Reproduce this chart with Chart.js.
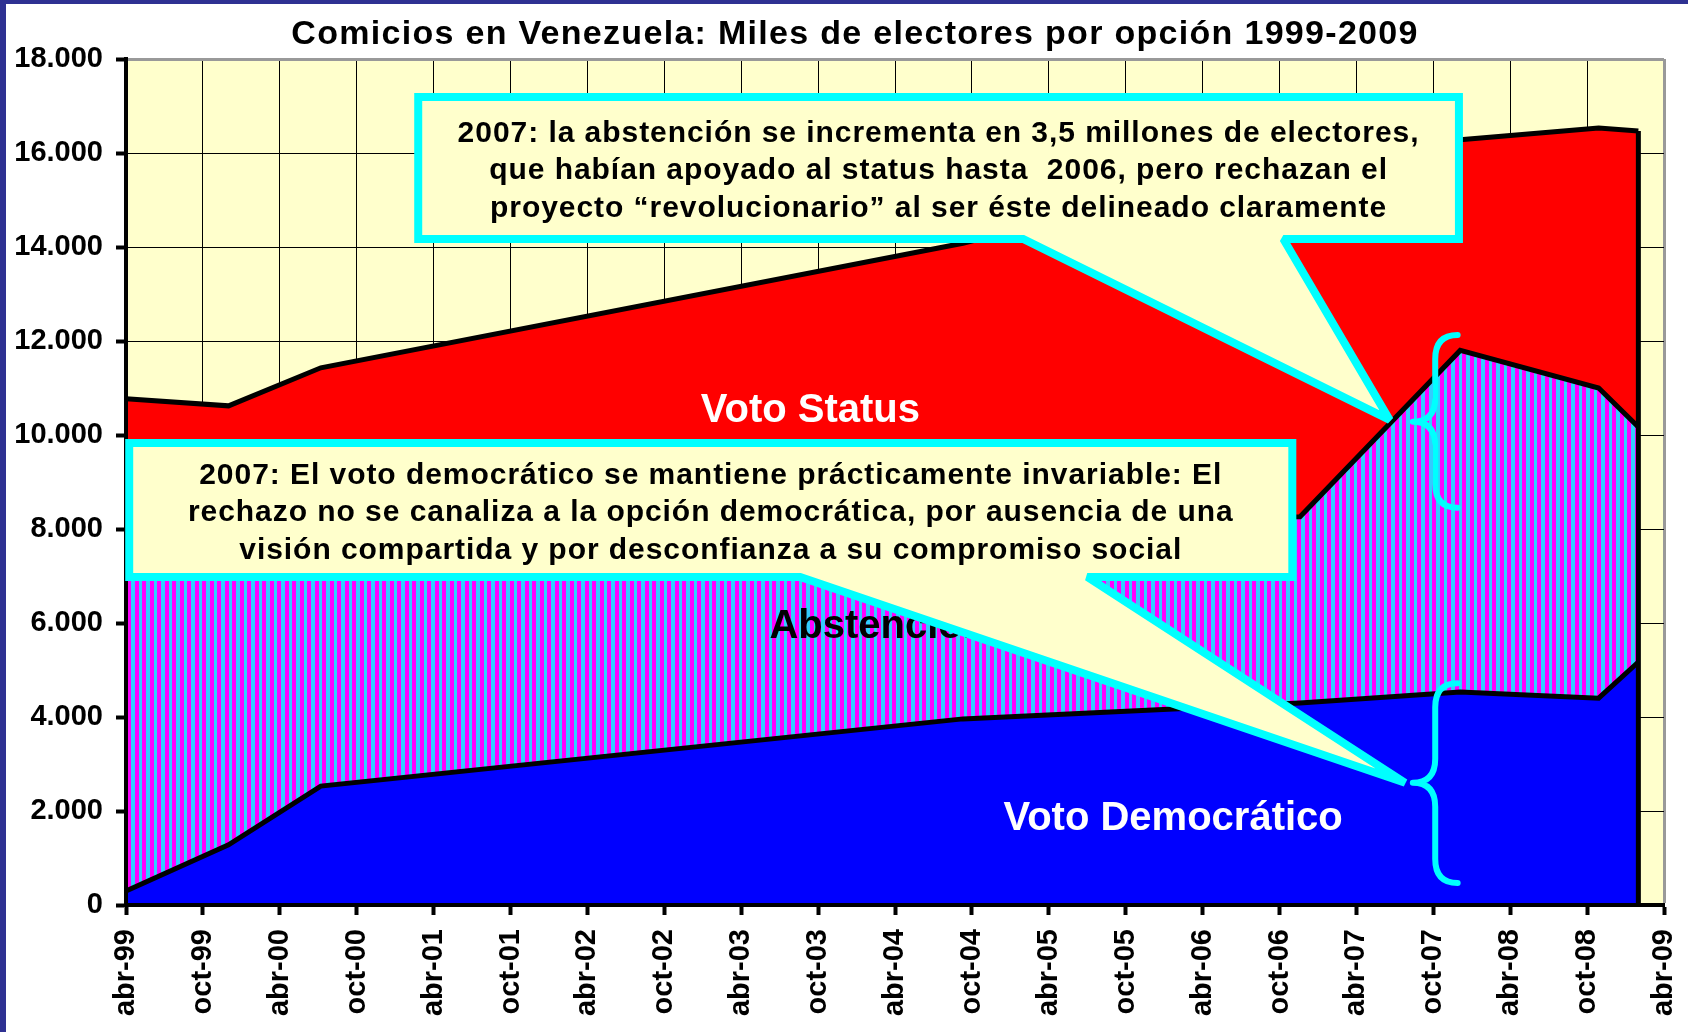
<!DOCTYPE html>
<html lang="es">
<head>
<meta charset="utf-8">
<title>Comicios en Venezuela</title>
<script src="https://cdn.jsdelivr.net/npm/chart.js@4.4.1/dist/chart.umd.min.js"></script>
<style>
    html, body { margin: 0; padding: 0; background: #ffffff; }
</style>
</head>
<body>
<canvas id="comicios" width="1688" height="1032"></canvas>
<script>
// -------------------------    Data    -------------------------

// election dates as months counted from abr-99
var eventMonths = [0, 8, 15.2, 65.3, 91.6, 104.1, 114.9, 118];
var eventNames = ['abr-99', 'dic-99', 'jul-00', 'ago-04', 'dic-06', 'dic-07', 'nov-08', 'feb-09'];

// miles de electores
var votoDemocratico = [300, 1280, 2530, 3960, 4300, 4530, 4400, 5170];
var abstencion = [6800, 6060, 5070, 4240, 3960, 7270, 6600, 5000];
var votoStatus = [3670, 3280, 3830, 5880, 7660, 4480, 5530, 6300];

// one label every 6 months
var xTickLabels = ['abr-99', 'oct-99', 'abr-00', 'oct-00', 'abr-01', 'oct-01', 'abr-02', 'oct-02',
    'abr-03', 'oct-03', 'abr-04', 'oct-04', 'abr-05', 'oct-05', 'abr-06', 'oct-06',
    'abr-07', 'oct-07', 'abr-08', 'oct-08', 'abr-09'];

var titleText = 'Comicios en Venezuela: Miles de electores por opción 1999-2009';


// -------------------------    Annotations (in data units)    -------------------------

var areaLabels = [
    { text: 'Voto Status', month: 53.4, value: 10520, color: '#ffffff' },
    { text: 'Abstención', month: 58.7, value: 5920, color: '#000000' },
    { text: 'Voto Democrático', month: 81.7, value: 1830, color: '#ffffff' }
];

var callouts = [
    {
        box: [22.8, 17190, 104.0, 14170],   // left month, top value, right month, bottom value
        tail: [70, 90.3, 98.6, 10320],      // base left, base right, tip month, tip value
        lines: [
            '2007: la abstención se incrementa en 3,5 millones de electores,',
            'que habían apoyado al status hasta  2006, pero rechazan el',
            'proyecto “revolucionario” al ser éste delineado claramente'
        ]
    },
    {
        box: [0.25, 9830, 91.0, 6980],
        tail: [52.6, 75, 99.8, 2600],
        lines: [
            '2007: El voto democrático se mantiene prácticamente invariable: El',
            'rechazo no se canaliza a la opción democrática, por ausencia de una',
            'visión compartida y por desconfianza a su compromiso social'
        ]
    }
];

var braces = [
    { tip: 100.4, end: 103.9, top: 12130, mid: 10280, bottom: 8450 },
    { tip: 100.4, end: 103.9, top: 4720, mid: 2600, bottom: 470 }
];


// -------------------------    Helpers    -------------------------

var FONT = "'Liberation Sans', Arial, sans-serif";

function toPoints(values) {
    return values.map(function (v, i) { return { x: eventMonths[i], y: v }; });
}

function formatMiles(v) {
    return String(v).replace(/\B(?=(\d{3})+(?!\d))/g, '.');
}

// vertical magenta / light blue stripes (about 7.5px period)
function makeStripes() {
    var c = document.createElement('canvas');
    c.width = 15;
    c.height = 4;
    var g = c.getContext('2d');
    g.fillStyle = '#33CCFF';
    g.fillRect(0, 0, 15, 4);
    g.fillStyle = '#FF00FF';
    g.fillRect(0, 0, 4, 4);
    g.fillRect(7, 0, 4, 4);
    return g.createPattern(c, 'repeat');
}


// -------------------------    Plugins    -------------------------

var background = {
    id: 'background',
    beforeDraw: function (chart) {
        var ctx = chart.ctx, a = chart.chartArea;
        ctx.save();
        ctx.fillStyle = '#ffffff';
        ctx.fillRect(0, 0, chart.width, chart.height);
        ctx.fillStyle = '#FFFFCC';
        ctx.fillRect(a.left, a.top, a.right - a.left, a.bottom - a.top);
        // slide frame
        ctx.fillStyle = '#2E3192';
        ctx.fillRect(0, 0, 6, chart.height);
        ctx.fillRect(0, 0, chart.width, 4);
        // title
        ctx.fillStyle = '#000';
        ctx.font = 'bold 34px ' + FONT;
        ctx.letterSpacing = '1.3px';
        ctx.textAlign = 'center';
        ctx.textBaseline = 'middle';
        ctx.fillText(titleText, 855, 35);
        ctx.letterSpacing = '0px';
        ctx.restore();
    }
};

var annotations = {
    id: 'annotations',
    afterDatasetsDraw: function (chart) {
        var ctx = chart.ctx, a = chart.chartArea;
        var sx = chart.scales.x, sy = chart.scales.y;
        var X = function (m) { return sx.getPixelForValue(m); };
        var Y = function (v) { return sy.getPixelForValue(v); };

        ctx.save();

        // right edge of the stacked area
        var meta = chart.getDatasetMeta(2);
        var last = meta.data[meta.data.length - 1];
        ctx.strokeStyle = '#000';
        ctx.lineWidth = 5;
        ctx.beginPath();
        ctx.moveTo(last.x, last.y);
        ctx.lineTo(last.x, a.bottom);
        ctx.stroke();

        // axis lines on top of the areas
        ctx.lineWidth = 4;
        ctx.beginPath();
        ctx.moveTo(a.left, a.top - 1);
        ctx.lineTo(a.left, a.bottom + 2);
        ctx.moveTo(a.left - 2, a.bottom);
        ctx.lineTo(a.right, a.bottom);
        ctx.stroke();

        // labels inside the areas
        ctx.font = 'bold 40px ' + FONT;
        ctx.textAlign = 'center';
        ctx.textBaseline = 'middle';
        areaLabels.forEach(function (l) {
            ctx.fillStyle = l.color;
            ctx.fillText(l.text, X(l.month), Y(l.value));
        });

        // callouts
        callouts.forEach(function (c) {
            var x0 = X(c.box[0]), y0 = Y(c.box[1]), x1 = X(c.box[2]), y1 = Y(c.box[3]);
            ctx.beginPath();
            ctx.moveTo(x0, y0);
            ctx.lineTo(x1, y0);
            ctx.lineTo(x1, y1);
            ctx.lineTo(X(c.tail[1]), y1);
            ctx.lineTo(X(c.tail[2]), Y(c.tail[3]));
            ctx.lineTo(X(c.tail[0]), y1);
            ctx.lineTo(x0, y1);
            ctx.closePath();
            ctx.fillStyle = '#FFFFCC';
            ctx.fill();
            ctx.lineJoin = 'miter';
            ctx.miterLimit = 2;
            ctx.lineWidth = 8;
            ctx.strokeStyle = '#00FFFF';
            ctx.stroke();

            ctx.fillStyle = '#000';
            ctx.font = 'bold 30px ' + FONT;
            ctx.letterSpacing = '0.95px';
            var cx = (x0 + x1) / 2, cy = (y0 + y1) / 2 + 3, lh = 37.5;
            c.lines.forEach(function (t, i) {
                ctx.fillText(t, cx, cy + (i - (c.lines.length - 1) / 2) * lh);
            });
            ctx.letterSpacing = '0px';
        });

        // curly braces
        ctx.strokeStyle = '#00FFFF';
        ctx.lineWidth = 6;
        ctx.lineCap = 'round';
        ctx.lineJoin = 'round';
        braces.forEach(function (b) {
            var xt = X(b.tip), xe = X(b.end), xm = (xt + xe) / 2;
            var yt = Y(b.top), ym = Y(b.mid), yb = Y(b.bottom), r = 24;
            ctx.beginPath();
            ctx.moveTo(xe, yt);
            ctx.quadraticCurveTo(xm, yt, xm, yt + r);
            ctx.lineTo(xm, ym - r);
            ctx.quadraticCurveTo(xm, ym, xt, ym);
            ctx.quadraticCurveTo(xm, ym, xm, ym + r);
            ctx.lineTo(xm, yb - r);
            ctx.quadraticCurveTo(xm, yb, xe, yb);
            ctx.stroke();
        });

        ctx.restore();
    }
};


// -------------------------    Chart Setup    -------------------------

Chart.defaults.font.family = FONT;
Chart.defaults.color = '#000';

var common = {
    borderColor: '#000000',
    borderWidth: 5,
    pointRadius: 0,
    tension: 0,
    borderJoinStyle: 'miter'
};

var ctx = document.getElementById('comicios').getContext('2d');
var comiciosChart = new Chart(ctx, {
    type: 'line',
    data: {
        datasets: [
            Object.assign({ label: 'Voto Democrático', data: toPoints(votoDemocratico), backgroundColor: '#0000FF', fill: 'origin' }, common),
            Object.assign({ label: 'Abstención', data: toPoints(abstencion), backgroundColor: makeStripes(), fill: '-1' }, common),
            Object.assign({ label: 'Voto Status', data: toPoints(votoStatus), backgroundColor: '#FF0000', fill: '-1' }, common)
        ]
    },
    options: {
        responsive: false,
        animation: false,
        layout: {
            padding: { left: 6, right: 24, top: 59, bottom: 0 }
        },
        plugins: {
            legend: { display: false },
            tooltip: { enabled: false },
            title: { display: false }
        },
        scales: {
            x: {
                type: 'linear',
                min: 0,
                max: 120,
                afterFit: function (s) {
                    s.height = 127;
                    s.paddingLeft = 0;
                    s.paddingRight = 0;
                },
                border: { color: '#000', width: 4 },
                grid: {
                    color: function (c) { return c.tick && c.tick.value === 120 ? '#999999' : '#000000'; },
                    lineWidth: function (c) { return c.tick && c.tick.value === 120 ? 3 : 1; },
                    tickColor: '#000',
                    tickWidth: 4,
                    tickLength: 10
                },
                ticks: {
                    stepSize: 6,
                    autoSkip: false,
                    maxRotation: 90,
                    minRotation: 90,
                    padding: 14,
                    color: '#000',
                    font: { size: 29, weight: 'bold' },
                    callback: function (v) { return xTickLabels[Math.round(v / 6)]; }
                }
            },
            y: {
                stacked: true,
                min: 0,
                max: 18000,
                afterFit: function (s) { s.width = 120; },
                border: { color: '#000', width: 4 },
                grid: {
                    color: function (c) { return c.tick && c.tick.value === 18000 ? '#999999' : '#000000'; },
                    lineWidth: function (c) { return c.tick && c.tick.value === 18000 ? 3 : 1; },
                    tickColor: '#000',
                    tickWidth: 4,
                    tickLength: 10
                },
                ticks: {
                    stepSize: 2000,
                    padding: 13,
                    color: '#000',
                    font: { size: 29, weight: 'bold' },
                    callback: function (v) { return formatMiles(v); }
                }
            }
        }
    },
    plugins: [background, annotations]
});
</script>
</body>
</html>
